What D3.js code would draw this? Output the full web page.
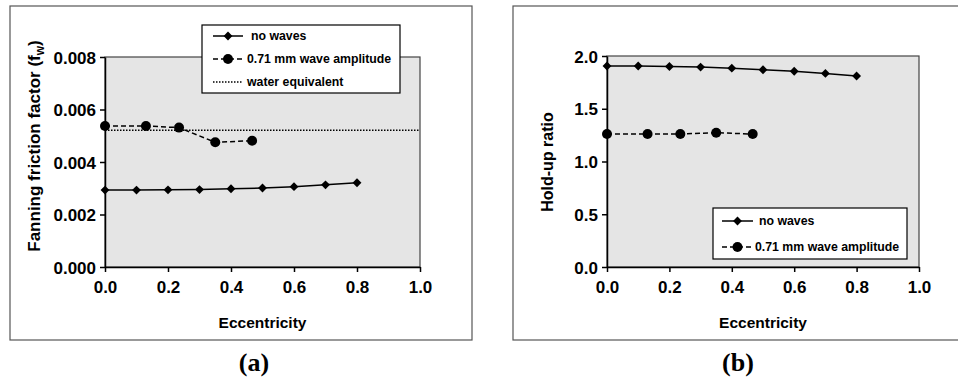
<!DOCTYPE html>
<html>
<head>
<meta charset="utf-8">
<script src="https://cdn.jsdelivr.net/npm/d3@7"></script>
<style>
  body { margin: 0; background: #fff; }
  text { font-family: "Liberation Sans", Arial, sans-serif; font-weight: bold; fill: #000; }
  .caption { font-family: "Liberation Serif", "Times New Roman", serif; }
</style>
</head>
<body>
<div id="chart"></div>
<script>
// Data
var ecc = [0, 0.1, 0.2, 0.3, 0.4, 0.5, 0.6, 0.7, 0.8];
var eccWave = [0, 0.13, 0.235, 0.35, 0.467];

var frictionNoWaves = [0.00293, 0.00293, 0.00294, 0.00295, 0.00298, 0.00301, 0.00306, 0.00313, 0.00321];
var frictionWave = [0.00537, 0.00537, 0.00531, 0.00475, 0.00481];
var waterEquivalent = 0.00521;

var holdupNoWaves = [1.905, 1.905, 1.90, 1.895, 1.885, 1.87, 1.855, 1.835, 1.81];
var holdupWave = [1.26, 1.26, 1.26, 1.273, 1.26];

var xTicks = [0, 0.2, 0.4, 0.6, 0.8, 1.0];
var frictionTicks = [0, 0.002, 0.004, 0.006, 0.008];
var holdupTicks = [0, 0.5, 1.0, 1.5, 2.0];

var svgWidth = 958;
var svgHeight = 382;

var svg = d3.select("#chart")
  .append("svg")
  .attr("width", svgWidth)
  .attr("height", svgHeight);

// Draw one panel
function drawPanel(opt) {
  var g = svg.append("g");

  // outer frame
  g.append("rect")
    .attr("x", opt.frame[0]).attr("y", opt.frame[1])
    .attr("width", opt.frame[2]).attr("height", opt.frame[3])
    .attr("fill", "none").attr("stroke", "#555").attr("stroke-width", 1.2);

  var x = d3.scaleLinear().domain([0, 1]).range([opt.left, opt.right]);
  var y = d3.scaleLinear().domain(opt.yDomain).range([opt.bottom, opt.top]);

  // plot area
  g.append("rect")
    .attr("x", opt.left).attr("y", opt.top)
    .attr("width", opt.right - opt.left).attr("height", opt.bottom - opt.top)
    .attr("fill", "#e5e5e5").attr("stroke", "#444").attr("stroke-width", 1.2);

  var xAxis = g.append("g")
    .attr("transform", `translate(0, ${opt.bottom})`)
    .call(d3.axisBottom(x).tickValues(xTicks).tickFormat(d3.format(".1f")).tickSizeInner(5).tickSizeOuter(0).tickPadding(9));
  var yAxis = g.append("g")
    .attr("transform", `translate(${opt.left}, 0)`)
    .call(d3.axisLeft(y).tickValues(opt.yTicks).tickFormat(d3.format(opt.yFormat)).tickSizeInner(5).tickSizeOuter(0).tickPadding(4));

  [xAxis, yAxis].forEach(function(a) {
    a.selectAll("path, line").attr("stroke", "#000").attr("stroke-width", 1.5);
    a.selectAll("text")
      .attr("font-family", "Liberation Sans, Arial, sans-serif")
      .attr("font-weight", "bold")
      .attr("font-size", 17)
      .attr("fill", "#000");
  });
  yAxis.selectAll("text").attr("dy", "0.36em");

  // reference line
  if (opt.refLine !== undefined) {
    g.append("line")
      .attr("x1", x(0)).attr("x2", x(1))
      .attr("y1", y(opt.refLine)).attr("y2", y(opt.refLine))
      .attr("stroke", "#000").attr("stroke-width", 1.3)
      .attr("stroke-dasharray", "1.5,1.5");
  }

  var line = d3.line().x(d => x(d[0])).y(d => y(d[1]));

  var wave = opt.waveX.map((v, i) => [v, opt.waveY[i]]);
  g.append("path").datum(wave).attr("d", line)
    .attr("fill", "none").attr("stroke", "#000").attr("stroke-width", 1.5)
    .attr("stroke-dasharray", "5,3");
  g.selectAll(null).data(wave).enter().append("circle")
    .attr("cx", d => x(d[0])).attr("cy", d => y(d[1]))
    .attr("r", 5).attr("fill", "#000");

  var flat = opt.flatX.map((v, i) => [v, opt.flatY[i]]);
  g.append("path").datum(flat).attr("d", line)
    .attr("fill", "none").attr("stroke", "#000").attr("stroke-width", 1.5);
  g.selectAll(null).data(flat).enter().append("path")
    .attr("d", d3.symbol(d3.symbolDiamond2, 50)())
    .attr("transform", d => `translate(${x(d[0])}, ${y(d[1])})`)
    .attr("fill", "#000");

  // axis titles
  g.append("text")
    .attr("x", (opt.left + opt.right) / 2).attr("y", 328)
    .attr("text-anchor", "middle").attr("font-size", 15.5)
    .text("Eccentricity");

  var yt = g.append("text")
    .attr("transform", `translate(${opt.yTitleX}, ${opt.yTitleY}) rotate(-90)`)
    .attr("text-anchor", "middle").attr("font-size", opt.yTitleSize);
  opt.yTitle(yt);

  // caption
  g.append("text")
    .attr("class", "caption")
    .attr("x", opt.captionX).attr("y", 371)
    .attr("text-anchor", "middle").attr("font-size", 26)
    .text(opt.caption);

  // legend
  var L = opt.legend;
  g.append("rect")
    .attr("x", L.x).attr("y", L.y).attr("width", L.w).attr("height", L.h)
    .attr("fill", "#fff").attr("stroke", "#000").attr("stroke-width", 1.2);
  L.rows.forEach(function(r, i) {
    var ry = L.y + L.firstRow + i * L.step;
    var row = g.append("g");
    var ln = row.append("line")
      .attr("x1", L.x + L.lineX0).attr("x2", L.x + L.lineX1)
      .attr("y1", ry).attr("y2", ry)
      .attr("stroke", "#000").attr("stroke-width", 1.5);
    var mx = L.x + (L.lineX0 + L.lineX1) / 2;
    if (r.kind === "flat") {
      row.append("path").attr("d", d3.symbol(d3.symbolDiamond2, 50)())
        .attr("transform", `translate(${mx}, ${ry})`).attr("fill", "#000");
    } else if (r.kind === "wave") {
      ln.attr("stroke-dasharray", "5,3");
      row.append("circle").attr("cx", mx).attr("cy", ry).attr("r", 5).attr("fill", "#000");
    } else {
      ln.attr("stroke-width", 1.3).attr("stroke-dasharray", "1.5,1.5");
    }
    row.append("text")
      .attr("x", L.x + r.tx).attr("y", ry).attr("dy", "0.35em")
      .attr("font-size", 12.3)
      .text(r.label);
  });
}

drawPanel({
  frame: [10, 6, 462, 334],
  left: 105, right: 420, top: 57, bottom: 267,
  yDomain: [0, 0.008], yTicks: frictionTicks, yFormat: ".3f",
  refLine: waterEquivalent,
  waveX: eccWave, waveY: frictionWave,
  flatX: ecc, flatY: frictionNoWaves,
  yTitleX: 40, yTitleY: 146, yTitleSize: 17,
  yTitle: function(t) {
    t.append("tspan").text("Fanning friction factor (f");
    t.append("tspan").attr("font-size", 12).attr("dy", 4).text("w");
    t.append("tspan").attr("dy", -4).text(")");
  },
  caption: "(a)", captionX: 254,
  legend: {
    x: 202, y: 25, w: 198, h: 68, firstRow: 11, step: 23,
    lineX0: 11, lineX1: 41,
    rows: [
      { kind: "flat", label: "no waves", tx: 49 },
      { kind: "wave", label: "0.71 mm wave amplitude", tx: 45 },
      { kind: "dot", label: "water equivalent", tx: 45 }
    ]
  }
});

drawPanel({
  frame: [513, 6, 460, 334],
  left: 607, right: 919, top: 56, bottom: 267,
  yDomain: [0, 2], yTicks: holdupTicks, yFormat: ".1f",
  waveX: eccWave, waveY: holdupWave,
  flatX: ecc, flatY: holdupNoWaves,
  yTitleX: 553, yTitleY: 162, yTitleSize: 16,
  yTitle: function(t) { t.text("Hold-up ratio"); },
  caption: "(b)", captionX: 738,
  legend: {
    x: 713, y: 208, w: 194, h: 51, firstRow: 13, step: 26,
    lineX0: 9, lineX1: 40,
    rows: [
      { kind: "flat", label: "no waves", tx: 46 },
      { kind: "wave", label: "0.71 mm wave amplitude", tx: 42 }
    ]
  }
});
</script>
</body>
</html>
